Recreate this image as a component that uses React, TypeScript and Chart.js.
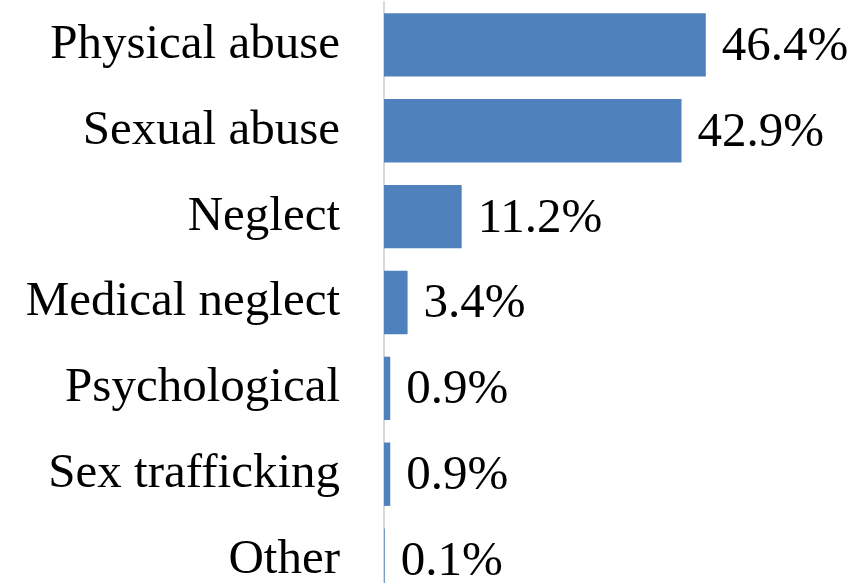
import React, { useEffect, useRef } from "react";
import { Chart, registerables } from "chart.js";

Chart.register(...registerables);

const categories = [
  "Physical abuse",
  "Sexual abuse",
  "Neglect",
  "Medical neglect",
  "Psychological",
  "Sex trafficking",
  "Other",
];
const values = [46.4, 42.9, 11.2, 3.4, 0.9, 0.9, 0.1];
const valueLabels = ["46.4%", "42.9%", "11.2%", "3.4%", "0.9%", "0.9%", "0.1%"];

const FONT_FAMILY = "'Liberation Serif', serif";
const FONT_SIZE = 49;

const dataLabelPlugin = {
  id: "dataLabels",
  afterDatasetsDraw(chart: any) {
    const ctx = chart.ctx;
    const meta = chart.getDatasetMeta(0);
    ctx.save();
    ctx.font = `${FONT_SIZE}px ${FONT_FAMILY}`;
    ctx.fillStyle = "#000000";
    ctx.textAlign = "left";
    ctx.textBaseline = "middle";
    meta.data.forEach((el: any, i: number) => {
      ctx.fillText(valueLabels[i], el.x + 16, el.y + 2);
    });
    ctx.restore();
  },
};

export default function App() {
  const ref = useRef<HTMLCanvasElement>(null);
  useEffect(() => {
    if (!ref.current) return;
    const chart = new Chart(ref.current, {
      type: "bar",
      data: {
        labels: categories,
        datasets: [
          {
            data: values,
            backgroundColor: "#4F81BD",
            borderWidth: 0,
            categoryPercentage: 1,
            barPercentage: 0.738,
          },
        ],
      },
      options: {
        indexAxis: "y",
        animation: false,
        responsive: true,
        maintainAspectRatio: false,
        layout: { padding: { top: 2, bottom: 0, left: 0, right: 0 } },
        plugins: {
          legend: { display: false },
          tooltip: { enabled: false },
        },
        scales: {
          x: {
            display: false,
            min: 0,
            max: 69.5,
          },
          y: {
            afterFit: (scale: any) => {
              scale.width = 384;
              scale.paddingTop = 0;
              scale.paddingBottom = 0;
            },
            grid: { display: false, drawTicks: false },
            border: { display: true, color: "#d9d9d9", width: 2 },
            ticks: {
              padding: 44,
              color: "#000000",
              font: { family: FONT_FAMILY, size: FONT_SIZE },
            },
          },
        },
      },
      plugins: [dataLabelPlugin],
    });
    return () => chart.destroy();
  }, []);

  return (
    <div
      style={{
        position: "fixed",
        top: 0,
        left: 0,
        width: 866,
        height: 583,
        overflow: "hidden",
        background: "#ffffff",
      }}
    >
      <div style={{ position: "relative", width: 866, height: 603 }}>
        <canvas ref={ref} />
      </div>
    </div>
  );
}
